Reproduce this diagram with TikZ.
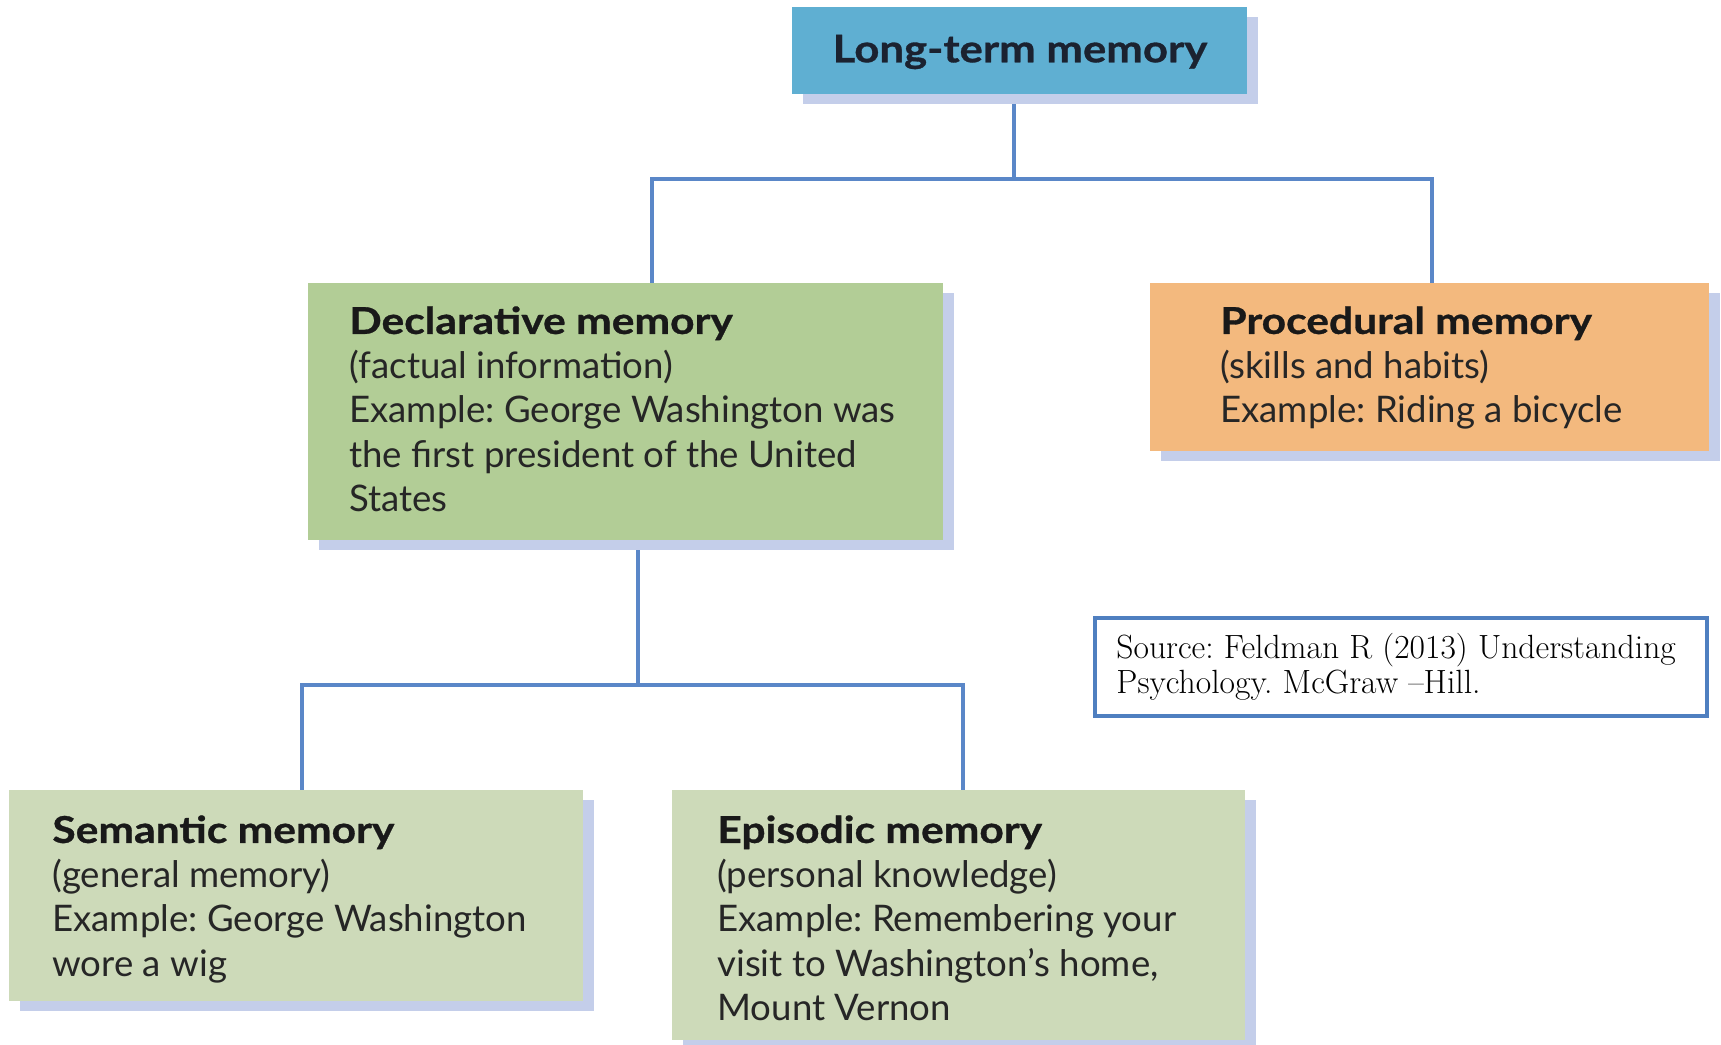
\documentclass[tikz,border=0pt]{standalone}
\usepackage{fontspec}
\newfontfamily\gill{Lato}
\newfontfamily\gilltitle[FakeStretch=1.15,FakeBold=0.8]{Lato}
\usetikzlibrary{shadows,fit}
\definecolor{ltblue}{HTML}{5FAFD2}
\definecolor{declgreen}{HTML}{B2CD96}
\definecolor{procorange}{HTML}{F3B97E}
\definecolor{subgreen}{HTML}{CDDAB9}
\definecolor{shadowc}{HTML}{C4CEEA}
\definecolor{connc}{HTML}{5A87C8}
\definecolor{srcblue}{HTML}{4F7FC0}
\definecolor{textc}{HTML}{262626}
\definecolor{titlec}{HTML}{1B2230}
\newcommand{\boxtitle}[1]{{\gilltitle\bfseries\fontsize{18.5}{22.2}\selectfont\color{black!90}#1}}
\tikzset{
  box/.style={inner sep=0pt, draw=none, general shadow={fill=shadowc, shadow xshift=5.5pt, shadow yshift=-5pt}},
  txt/.style={anchor=north west, inner sep=0pt, align=left, text=textc, font=\gill\frenchspacing\fontsize{18.3}{22.2}\selectfont},
  conn/.style={draw=connc, line width=2.4pt},
  srcbox/.style={inner sep=0pt, draw=srcblue, line width=2pt, fill=white},
  srctxt/.style={anchor=north west, inner sep=0pt, align=left, text=black, font=\frenchspacing\fontsize{16.8}{17.6}\selectfont}
}
\begin{document}
\begin{tikzpicture}[x=0.5pt,y=-0.5pt]
\useasboundingbox (0,0) rectangle (1721,1045);
\fill[white] (0,0) rectangle (1721,1045);
% connector joints
\coordinate (ltbot) at (1014,94);
\coordinate (j1) at (1014,179);
\coordinate (jl) at (652,179);
\coordinate (jr) at (1432,179);
\coordinate (dtop) at (652,283);
\coordinate (ptop) at (1432,283);
\coordinate (dbot) at (638,540);
\coordinate (j2) at (638,685);
\coordinate (kl) at (302,685);
\coordinate (kr) at (963,685);
\coordinate (stop) at (302,790);
\coordinate (etop) at (963,790);
\draw[conn] (ltbot) -- (j1);
\draw[conn] (dtop) -- (jl) -- (jr) -- (ptop);
\draw[conn] (dbot) -- (j2);
\draw[conn] (stop) -- (kl) -- (kr) -- (etop);
% boxes
\node[box, fill=ltblue, fit={(792,7)(1247,94)}] (lt) {};
\node[box, fill=declgreen, fit={(308,283)(943,540)}] (decl) {};
\node[box, fill=procorange, fit={(1150,283)(1709,451)}] (proc) {};
\node[box, fill=subgreen, fit={(9,790)(583,1001)}] (sem) {};
\node[box, fill=subgreen, fit={(672,790)(1245,1040)}] (epi) {};
\node[srcbox, fit={(1095,618)(1707,716)}] (src) {};
% texts
\node[inner sep=0pt, text=titlec, font=\gilltitle\bfseries\fontsize{19}{22}\selectfont] (lttxt) at (1020,52) {Long-term memory};
\node[txt] (decltxt) at (349,306) {\boxtitle{Declarative memory}\\(factual information)\\Example: George Washington was\\the first president of the United\\States};
\node[txt] (proctxt) at (1220,306) {\boxtitle{Procedural memory}\\(skills and habits)\\Example: Riding a bicycle};
\node[txt] (semtxt) at (52,815) {\boxtitle{Semantic memory}\\(general memory)\\Example: George Washington\\wore a wig};
\node[txt] (epitxt) at (717,815) {\boxtitle{Episodic memory}\\(personal knowledge)\\Example: Remembering your\\visit to Washington’s home,\\Mount Vernon};
\node[srctxt] (srctxt) at (1116,633) {Source: Feldman R (2013) Understanding\\Psychology. McGraw –Hill.};
\end{tikzpicture}
\end{document}
